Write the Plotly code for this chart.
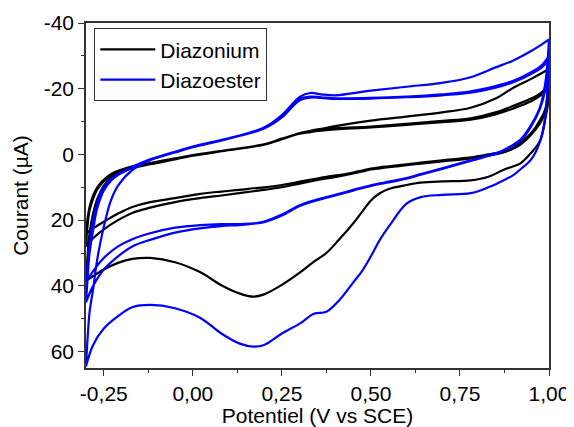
import plotly.graph_objects as go

# Potential grids (V vs SCE) for the cathodic (1.0 -> -0.3) and anodic (-0.3 -> 1.0) sweeps
E_cath = [1.00, 0.99, 0.975, 0.95, 0.92, 0.90, 0.87, 0.83, 0.78, 0.70, 0.64, 0.60, 0.55, 0.525,
          0.50, 0.475, 0.45, 0.41, 0.375, 0.34, 0.30, 0.25, 0.20, 0.17, 0.13, 0.08, 0.02, -0.05,
          -0.12, -0.17, -0.21, -0.25, -0.28, -0.30]
E_anod = [-0.30, -0.295, -0.29, -0.28, -0.27, -0.26, -0.25, -0.23, -0.21, -0.17, -0.12, -0.05,
          0.00, 0.10, 0.20, 0.25, 0.30, 0.33, 0.36, 0.40, 0.50, 0.60, 0.70, 0.78, 0.85, 0.90,
          0.95, 0.98, 1.00]

# Diazonium currents (µA)
diazonium_cath1 = [-20, -11, -4.2, -0.5, 2.7, 3.6, 4.8, 6.8, 7.9, 8.2, 8.6, 9.3, 10.5, 11.8,
                   14, 17.5, 21, 26, 30, 32.6, 36, 39.7, 42.6, 43.3, 42.3, 39.8, 35.8, 32.8,
                   31.5, 31.8, 33, 35, 37, 38.5]
diazonium_anod1 = [38.5, 30, 24, 18, 14, 11.5, 9.5, 7.3, 6, 4.2, 3, 1.5, 0.4, -1.3, -3, -4.6,
                   -6.5, -7.2, -7.8, -8.6, -10.3, -11.5, -12.8, -14.2, -17, -20.3, -23, -24.8, -26]
diazonium_cath2 = [-26, -14, -10.5, -6.5, -3.5, -2, -0.8, 0, 0.9, 1.8, 2.5, 3, 3.6, 3.9,
                   4.3, 4.9, 5.5, 6.3, 6.8, 7.5, 8.3, 9.3, 10, 10.3, 10.8, 11.3, 12, 13.3,
                   14.5, 16, 18, 20.5, 22.5, 24]
diazonium_anod2 = [24, 19, 16, 12.5, 10.3, 8.8, 7.7, 6, 5, 3.6, 2.6, 1.2, 0.2, -1.4, -3.1, -4.8,
                   -6.4, -7, -7.4, -7.9, -8.5, -9.3, -10.2, -11, -12.8, -14.8, -17, -19, -21.5]
diazonium_cath3 = [-21.5, -13, -9.5, -6, -3, -1.8, -0.5, 0.3, 1.2, 2.1, 2.8, 3.3, 3.9, 4.25,
                   4.6, 5.2, 5.8, 6.7, 7.3, 8, 8.9, 10, 10.8, 11.2, 11.8, 12.5, 13.3, 14.5,
                   16.2, 17.8, 20, 22.8, 25.5, 28]
diazonium_anod3 = [28, 21, 17, 13.5, 11, 9.4, 8.2, 6.5, 5.4, 3.9, 2.8, 1.3, 0.3, -1.3, -3, -4.7,
                   -6.3, -6.8, -7.2, -7.6, -8.2, -9, -9.8, -10.6, -12.2, -14, -16.2, -18.2, -20]

# Diazoester currents (µA)
diazoester_cath1 = [-30, -12, -4, 1.5, 4.5, 6.3, 8, 10, 11.8, 12.3, 13, 15, 22, 26,
                    31, 35.5, 39, 44.5, 47.9, 48.5, 51.5, 54.5, 58, 58.5, 57.5, 54.5, 49.7, 46.8,
                    45.8, 46.5, 49.2, 53, 58, 64.5]
diazoester_anod1 = [64.5, 55, 48, 41, 33, 27, 22, 14, 9.5, 4.8, 1.8, -0.6, -2.2, -4.8, -8.2, -12,
                    -17.5, -18.7, -18.3, -18, -19.4, -20.6, -21.8, -23.5, -26.5, -28.6, -31.5, -33.5, -35]
diazoester_cath2 = [-35, -22, -14.5, -9, -4.5, -3, -1.2, 0.3, 1.8, 4.2, 6, 7.2, 8.3, 8.8,
                    9.4, 10.1, 10.8, 12, 13, 14, 15.5, 18.3, 20.4, 21, 21.2, 21.2, 21.5, 22.3,
                    24, 25.8, 28, 31.5, 35.5, 39]
diazoester_anod2 = [39, 33, 27, 20, 15.5, 12, 10, 7.5, 6, 3.8, 1.5, -0.8, -2.4, -4.9, -8, -11.5,
                    -16.8, -17.6, -17.4, -17.1, -17.2, -17.6, -18.3, -19.2, -20.8, -22.4, -25, -27.2, -30]
diazoester_cath3 = [-30, -20, -14, -8.5, -4, -2.8, -1, 0.5, 2, 4.4, 6.2, 7.4, 8.5, 9.0,
                    9.6, 10.3, 11, 12.2, 13.2, 14.2, 15.7, 18.6, 20.6, 21.1, 21.5, 21.8, 22.5, 23.8,
                    26, 28, 31, 35, 40, 45]
diazoester_anod3 = [45, 37, 30, 23, 17, 13.5, 11, 8, 6.3, 4, 1.6, -0.7, -2.3, -4.8, -7.9, -11.3,
                    -16.5, -17.3, -17.2, -16.9, -17, -17.4, -18, -18.8, -20.3, -22, -24.5, -26.5, -29]

x_ticks = [-0.25, 0.0, 0.25, 0.5, 0.75, 1.0]
x_ticktext = ["-0,25", "0,00", "0,25", "0,50", "0,75", "1,00"]
y_ticks = [-40, -20, 0, 20, 40, 60]
y_ticktext = ["-40", "-20", "0", "20", "40", "60"]


def loop(sweeps):
    xs, ys = [], []
    for i, s in enumerate(sweeps):
        grid = E_cath if i % 2 == 0 else E_anod
        xs += grid
        ys += s
    return xs, ys


bx, by = loop([diazonium_cath1, diazonium_anod1, diazonium_cath2, diazonium_anod2,
               diazonium_cath3, diazonium_anod3])
ex, ey = loop([diazoester_cath1, diazoester_anod1, diazoester_cath2, diazoester_anod2,
               diazoester_cath3, diazoester_anod3])

fig = go.Figure()
fig.add_trace(go.Scatter(x=bx, y=by, mode="lines", name="Diazonium",
                         line=dict(color="#000000", width=2.2, shape="spline", smoothing=1.0)))
fig.add_trace(go.Scatter(x=ex, y=ey, mode="lines", name="Diazoester",
                         line=dict(color="#0000FF", width=2.2, shape="spline", smoothing=1.0)))

font = "Liberation Sans, Arial, sans-serif"
axcol = "#333333"
# The page body adds an 8 px offset, so the figure is sized 566 x 419 to fill the 574 x 427 window.
fig.update_layout(
    width=566, height=419,
    margin=dict(l=78, r=25, t=15, b=59, autoexpand=False),
    paper_bgcolor="white", plot_bgcolor="white",
    font=dict(family=font, size=21, color="#000000"),
    showlegend=True,
    legend=dict(x=0.018, y=0.985, xanchor="left", yanchor="top",
                bordercolor=axcol, borderwidth=1, bgcolor="white",
                font=dict(family=font, size=21), tracegroupgap=0,
                itemwidth=55),
    xaxis=dict(range=[-0.30, 1.00], showgrid=False, zeroline=False, automargin=False,
               showline=True, linecolor=axcol, linewidth=1.5, mirror=True,
               ticks="outside", ticklen=6, tickwidth=1.2, tickcolor=axcol,
               tickvals=x_ticks, ticktext=x_ticktext,
               minor=dict(ticks="outside", ticklen=3, tickwidth=1.2, tickcolor=axcol,
                          dtick=0.125, tick0=-0.125),
               title=dict(text="Potentiel (V vs SCE)", font=dict(size=21), standoff=2),
               tickfont=dict(size=21)),
    yaxis=dict(range=[65, -40], showgrid=False, zeroline=False, automargin=False,
               showline=True, linecolor=axcol, linewidth=1.5, mirror=True,
               ticks="outside", ticklen=6, tickwidth=1.2, tickcolor=axcol,
               tickvals=y_ticks, ticktext=y_ticktext,
               minor=dict(ticks="outside", ticklen=3, tickwidth=1.2, tickcolor=axcol,
                          tickvals=[-30, -10, 10, 30, 50]),
               title=dict(text="Courant (µA)", font=dict(size=21), standoff=9),
               tickfont=dict(size=21)),
)

fig.write_html("out.html")
